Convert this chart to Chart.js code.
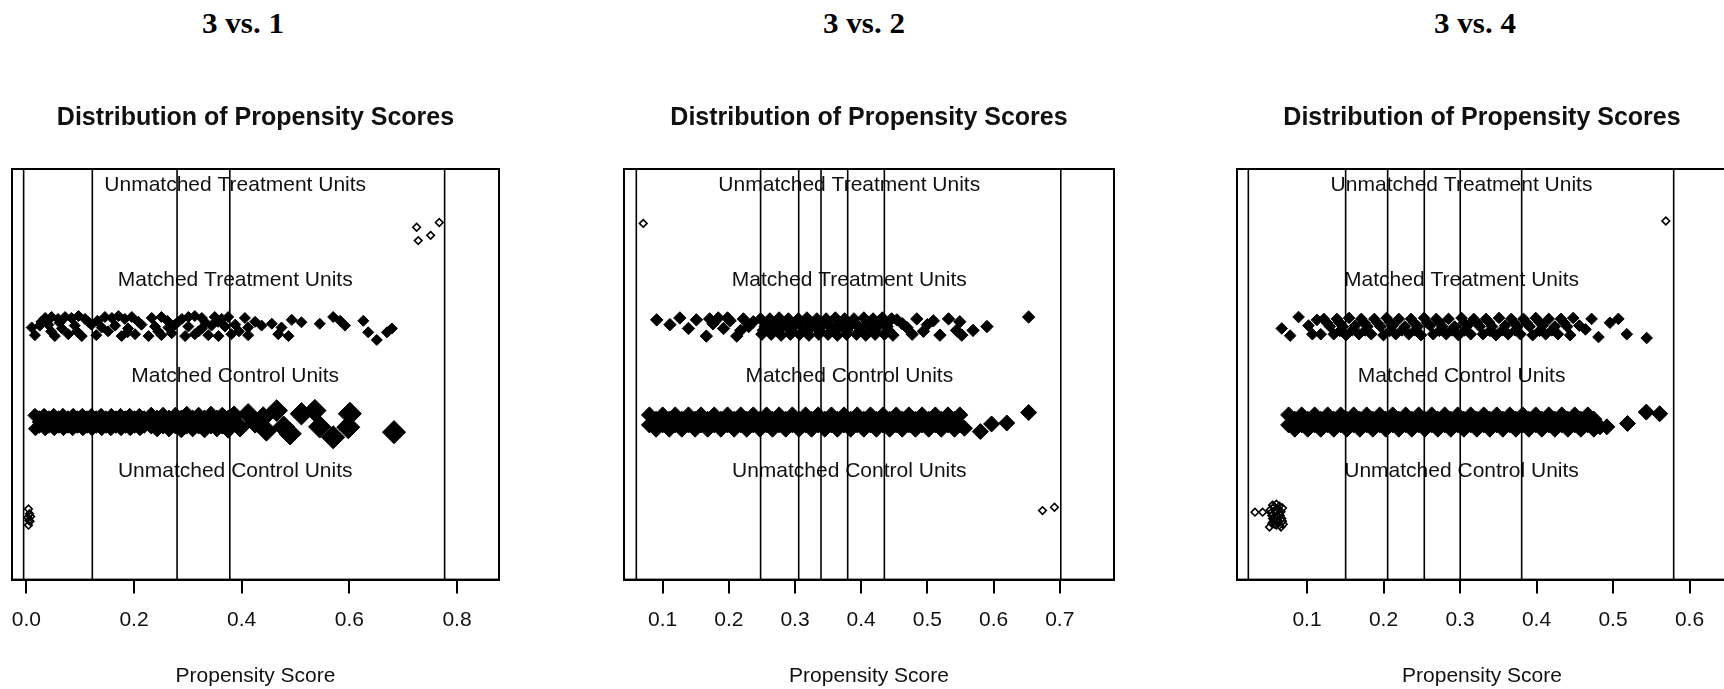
<!DOCTYPE html>
<html>
<head>
<meta charset="utf-8">
<script src="https://cdn.jsdelivr.net/npm/chart.js@4.4.1/dist/chart.umd.min.js"></script>
<style>
  html, body { margin: 0; padding: 0; background: #fff; width: 1724px; height: 689px; overflow: hidden; position: relative; }
  canvas { position: absolute; top: 0; }
  .hd { position: absolute; top: 5px; font-family: "Liberation Serif", "Times New Roman", serif; font-weight: bold; font-size: 29px; line-height: 36px; color: #000; white-space: nowrap; transform: translateX(-50%) scaleX(1.07); }
</style>
</head>
<body>
<script>
// ---------------- DATA ----------------
const panelHeadings = ["3 vs. 1", "3 vs. 2", "3 vs. 4"];
const chartTitle = "Distribution of Propensity Scores";
const axisTitle = "Propensity Score";
const groupLabels = ["Unmatched Treatment Units", "Matched Treatment Units", "Matched Control Units", "Unmatched Control Units"];
const groupLabelY = [4.48, 3.49, 2.48, 1.48];

// tick labels
const p1TickLabels = ["0.0", "0.2", "0.4", "0.6", "0.8"];
const p2TickLabels = ["0.1", "0.2", "0.3", "0.4", "0.5", "0.6", "0.7"];
const p3TickLabels = ["0.1", "0.2", "0.3", "0.4", "0.5", "0.6"];

// x ranges of the plot boxes
const p1Range = [-0.0266, 0.878];
const p2Range = [0.0416, 0.782];
const p3Range = [0.0085, 0.649];
const yRange = [0.35, 4.65];

// centre of group labels (propensity-score units)
const p1LabelX = 0.388;
const p2LabelX = 0.382;
const p3LabelX = 0.302;

// subclass cut lines
const p1Cuts = [-0.005, 0.1226, 0.280, 0.378, 0.777];
const p2Cuts = [0.0602, 0.248, 0.3056, 0.3393, 0.3796, 0.435, 0.7016];
const p3Cuts = [0.0233, 0.1505, 0.2054, 0.2533, 0.3003, 0.3806, 0.5793];

// ---- Panel 1 (3 vs. 1) ----  [score, jittered y]
const p1UT = [[0.725,4.04],[0.728,3.90],[0.751,3.955],[0.767,4.09]];
const p1UC = [[0.004,1.09],[0.006,1.04],[0.003,1.00],[0.007,0.96],[0.004,0.92],[0.008,1.01],[0.005,0.97]];
const p1MT = [
  [0.035,3.09],[0.047,3.10],[0.059,3.08],[0.072,3.10],[0.084,3.09],[0.097,3.11],[0.109,3.08],[0.146,3.10],[0.159,3.09],
  [0.171,3.11],[0.183,3.08],[0.196,3.10],[0.233,3.09],[0.251,3.10],[0.289,3.08],[0.301,3.10],[0.313,3.11],[0.326,3.09],
  [0.350,3.10],[0.363,3.08],[0.375,3.10],[0.406,3.09],[0.493,3.07],[0.511,3.045],[0.570,3.10],[0.583,3.06],[0.626,3.06],
  [0.010,2.99],[0.025,3.01],[0.041,3.02],[0.066,2.98],[0.090,3.01],[0.121,3.02],[0.140,2.99],[0.165,3.01],[0.189,2.98],
  [0.214,3.02],[0.239,3.00],[0.264,2.99],[0.276,3.02],[0.301,3.00],[0.326,2.98],[0.344,3.01],[0.369,3.00],[0.388,3.02],
  [0.412,2.99],[0.437,3.01],[0.456,3.03],[0.474,2.99],[0.545,3.03],[0.592,3.01],[0.679,2.98],
  [0.016,2.91],[0.053,2.90],[0.078,2.92],[0.103,2.90],[0.130,2.91],[0.177,2.90],[0.202,2.92],[0.227,2.90],[0.251,2.91],
  [0.270,2.93],[0.295,2.90],[0.313,2.92],[0.338,2.91],[0.357,2.90],[0.381,2.92],[0.412,2.91],[0.468,2.92],[0.487,2.90],
  [0.635,2.94],[0.651,2.86],[0.670,2.94],
  [0.028,3.05],[0.062,3.04],[0.115,3.05],[0.152,2.95],[0.208,3.05],[0.245,2.95],[0.282,3.05],[0.320,2.95],[0.356,3.05],
  [0.395,2.95],[0.046,2.95],[0.094,2.95],[0.132,3.06],[0.188,2.94],[0.262,3.06],[0.333,3.04],[0.425,3.05]
];
// [score, jittered y, weight]
const p1MC = [
  [0.016,2.07,1],[0.033,2.07,1],[0.051,2.07,1],[0.068,2.07,1],[0.087,2.07,1],[0.104,2.07,1],[0.121,2.07,1],[0.139,2.07,1],
  [0.158,2.07,1],[0.175,2.07,1],[0.192,2.07,1],[0.210,2.07,1],
  [0.024,2.045,1],[0.042,2.045,1],[0.060,2.045,1],[0.077,2.045,1],[0.095,2.045,1],[0.113,2.045,1],[0.130,2.045,1],[0.148,2.045,1],
  [0.166,2.045,1],[0.184,2.045,1],[0.201,2.045,1],[0.219,2.045,1],
  [0.024,2.00,1],[0.042,2.00,1],[0.060,2.00,1],[0.077,2.00,1],[0.095,2.00,1],[0.113,2.00,1],[0.130,2.00,1],[0.148,2.00,1],
  [0.166,2.00,1],[0.184,2.00,1],[0.201,2.00,1],[0.219,2.00,1],
  [0.024,1.955,1],[0.042,1.955,1],[0.060,1.955,1],[0.077,1.955,1],[0.095,1.955,1],[0.113,1.955,1],[0.130,1.955,1],[0.148,1.955,1],
  [0.166,1.955,1],[0.184,1.955,1],[0.201,1.955,1],[0.219,1.955,1],
  [0.017,1.93,1],[0.035,1.93,1],[0.052,1.93,1],[0.069,1.93,1],[0.086,1.93,1],[0.105,1.93,1],[0.122,1.93,1],[0.140,1.93,1],
  [0.157,1.93,1],[0.176,1.93,1],[0.193,1.93,1],[0.211,1.93,1],
  [0.232,2.06,1.3],[0.254,2.06,1.3],[0.277,2.06,1.3],[0.298,2.07,1.3],[0.320,2.06,1.3],[0.343,2.07,1.3],[0.364,2.06,1.3],[0.386,2.07,1.35],
  [0.243,2.03,1.3],[0.265,2.03,1.3],[0.288,2.03,1.3],[0.309,2.03,1.3],[0.331,2.03,1.3],[0.354,2.03,1.3],[0.375,2.03,1.3],
  [0.232,1.97,1.3],[0.254,1.97,1.3],[0.277,1.97,1.3],[0.298,1.97,1.3],[0.320,1.97,1.3],[0.343,1.97,1.3],[0.364,1.97,1.3],
  [0.243,1.94,1.3],[0.265,1.94,1.3],[0.288,1.93,1.3],[0.309,1.94,1.3],[0.331,1.93,1.3],[0.354,1.94,1.3],[0.375,1.93,1.35],
  [0.397,1.946,1.4],[0.412,2.087,1.45],[0.425,1.99,1.45],[0.440,2.05,1.5],[0.446,1.91,1.5],[0.465,2.12,1.55],[0.478,1.95,1.55],
  [0.490,1.877,1.6],[0.511,2.087,1.6],[0.536,2.12,1.6],[0.545,1.95,1.6],[0.570,1.84,1.65],[0.598,1.946,1.65],[0.601,2.087,1.65],
  [0.683,1.894,1.65]
];

// ---- Panel 2 (3 vs. 2) ----
const p2UT = [[0.0707,4.08]];
const p2UC = [[0.674,1.073],[0.692,1.108]];
const p2MT = [
  [0.091,3.07],[0.111,3.02],[0.126,3.09],[0.139,2.98],[0.151,3.07],[0.166,2.90],[0.176,3.03],[0.184,3.09],[0.192,2.98],
  [0.202,3.06],[0.212,2.90],[0.222,3.08],[0.230,3.00],[0.237,3.05],[0.198,3.09],[0.171,3.08],[0.218,2.96],
  [0.248,3.08],[0.262,3.08],[0.276,3.09],[0.290,3.08],[0.305,3.08],[0.318,3.09],[0.333,3.08],[0.347,3.08],[0.361,3.09],
  [0.375,3.08],[0.389,3.08],[0.404,3.09],[0.418,3.08],[0.432,3.09],[0.446,3.08],
  [0.262,3.04],[0.283,3.04],[0.304,3.045],[0.325,3.04],[0.347,3.04],[0.368,3.045],[0.389,3.04],[0.410,3.04],[0.431,3.045],
  [0.255,3.00],[0.269,3.00],[0.283,3.01],[0.297,3.00],[0.311,3.00],[0.326,3.01],[0.340,3.00],[0.354,3.00],[0.368,3.01],
  [0.382,3.00],[0.396,3.00],[0.411,3.01],[0.425,3.00],[0.439,3.00],
  [0.252,2.96],[0.273,2.96],[0.294,2.955],[0.315,2.96],[0.336,2.96],[0.357,2.955],[0.378,2.96],[0.399,2.96],[0.420,2.955],[0.441,2.96],
  [0.250,2.92],[0.264,2.92],[0.279,2.91],[0.293,2.92],[0.307,2.92],[0.321,2.91],[0.336,2.92],[0.350,2.92],[0.364,2.91],
  [0.378,2.92],[0.393,2.92],[0.407,2.91],[0.421,2.92],[0.435,2.92],[0.448,2.91],
  [0.454,3.07],[0.469,2.99],[0.477,2.92],[0.484,3.08],[0.494,2.95],[0.509,3.06],[0.519,2.91],[0.532,3.08],[0.544,2.96],
  [0.549,3.05],[0.552,2.91],[0.569,2.96],[0.590,3.00],[0.653,3.10],[0.462,3.03],[0.500,3.02]
];
const p2MC = [
  [0.080,2.075,1],[0.100,2.075,1],[0.119,2.075,1],[0.139,2.075,1],[0.158,2.075,1],[0.178,2.075,1],[0.198,2.075,1],[0.218,2.075,1],
  [0.237,2.075,1],[0.257,2.075,1],[0.276,2.075,1],[0.296,2.075,1],[0.316,2.075,1],[0.335,2.075,1],[0.355,2.075,1],[0.374,2.075,1],
  [0.394,2.075,1],[0.414,2.075,1],[0.433,2.075,1],[0.453,2.075,1],[0.472,2.075,1],[0.492,2.075,1],[0.512,2.075,1],[0.531,2.075,1],[0.549,2.075,1],
  [0.090,2.03,1],[0.110,2.03,1],[0.129,2.03,1],[0.149,2.03,1],[0.168,2.03,1],[0.188,2.03,1],[0.208,2.03,1],[0.227,2.03,1],
  [0.247,2.03,1],[0.266,2.03,1],[0.286,2.03,1],[0.306,2.03,1],[0.325,2.03,1],[0.345,2.03,1],[0.364,2.03,1],[0.384,2.03,1],
  [0.404,2.03,1],[0.423,2.03,1],[0.443,2.03,1],[0.462,2.03,1],[0.482,2.03,1],[0.502,2.03,1],[0.521,2.03,1],[0.541,2.03,1],
  [0.080,1.97,1],[0.100,1.97,1],[0.119,1.97,1],[0.139,1.97,1],[0.158,1.97,1],[0.178,1.97,1],[0.198,1.97,1],[0.218,1.97,1],
  [0.237,1.97,1],[0.257,1.97,1],[0.276,1.97,1],[0.296,1.97,1],[0.316,1.97,1],[0.335,1.97,1],[0.355,1.97,1],[0.374,1.97,1],
  [0.394,1.97,1],[0.414,1.97,1],[0.433,1.97,1],[0.453,1.97,1],[0.472,1.97,1],[0.492,1.97,1],[0.512,1.97,1],[0.531,1.97,1],[0.549,1.97,1],
  [0.090,1.925,1],[0.110,1.925,1],[0.129,1.925,1],[0.149,1.925,1],[0.168,1.925,1],[0.188,1.925,1],[0.208,1.925,1],[0.227,1.925,1],
  [0.247,1.925,1],[0.266,1.925,1],[0.286,1.925,1],[0.306,1.925,1],[0.325,1.925,1],[0.345,1.925,1],[0.364,1.925,1],[0.384,1.925,1],
  [0.404,1.925,1],[0.423,1.925,1],[0.443,1.925,1],[0.462,1.925,1],[0.482,1.925,1],[0.502,1.925,1],[0.521,1.925,1],[0.541,1.925,1],[0.556,1.935,1],
  [0.580,1.90,1],[0.597,1.98,1],[0.620,1.99,1],[0.653,2.10,1]
];

// ---- Panel 3 (3 vs. 4) ----
const p3UT = [[0.569,4.105]];
const p3UC = [
  [0.032,1.056],[0.042,1.056],[0.055,1.13],[0.060,1.14],[0.064,1.12],[0.052,1.08],[0.058,1.07],[0.066,1.06],[0.054,1.02],
  [0.061,1.01],[0.067,0.99],[0.056,0.96],[0.063,0.95],[0.069,0.93],[0.051,0.90],[0.060,0.92],[0.066,0.90],
  [0.057,1.11],[0.062,1.09],[0.068,1.10],[0.053,1.05],[0.064,1.04],[0.058,1.00],[0.065,1.02],[0.055,0.99],[0.062,0.97],
  [0.068,0.96],[0.058,0.93],[0.064,0.92],[0.054,0.94]
];
const p3MT = [
  [0.067,2.98],[0.078,2.905],[0.089,3.10],[0.102,3.01],[0.107,2.92],[0.113,3.07],
  [0.122,3.08],[0.139,3.08],[0.155,3.09],[0.171,3.08],[0.188,3.08],[0.204,3.09],[0.220,3.08],[0.236,3.08],[0.253,3.09],
  [0.269,3.08],[0.285,3.08],[0.302,3.09],[0.318,3.08],[0.334,3.08],[0.351,3.09],[0.367,3.08],[0.383,3.08],[0.399,3.09],
  [0.416,3.08],[0.432,3.08],[0.448,3.09],
  [0.130,3.00],[0.147,3.00],[0.163,3.01],[0.179,3.00],[0.196,3.00],[0.212,3.01],[0.228,3.00],[0.245,3.00],[0.261,3.01],
  [0.277,3.00],[0.293,3.00],[0.310,3.01],[0.326,3.00],[0.342,3.00],[0.359,3.01],[0.375,3.00],[0.391,3.00],[0.408,3.01],
  [0.424,3.00],[0.440,3.00],[0.456,3.01],
  [0.118,2.92],[0.135,2.92],[0.151,2.91],[0.168,2.92],[0.184,2.92],[0.200,2.91],[0.216,2.92],[0.233,2.92],[0.249,2.91],
  [0.265,2.92],[0.282,2.92],[0.298,2.91],[0.314,2.92],[0.330,2.92],[0.347,2.91],[0.363,2.92],[0.379,2.92],[0.395,2.91],
  [0.412,2.92],[0.428,2.92],[0.444,2.91],
  [0.126,3.04],[0.159,2.96],[0.192,3.04],[0.224,2.96],[0.257,3.04],[0.289,2.96],[0.322,3.04],[0.355,2.96],[0.387,3.04],
  [0.420,2.96],[0.436,3.04],
  [0.142,3.045],[0.175,3.04],[0.208,3.045],[0.240,3.04],[0.273,3.045],[0.305,3.04],[0.338,3.045],[0.371,3.04],[0.404,3.045],
  [0.143,2.955],[0.176,2.96],[0.208,2.955],[0.241,2.96],[0.273,2.955],[0.306,2.96],[0.339,2.955],[0.372,2.96],[0.404,2.955],
  [0.464,2.97],[0.472,3.08],[0.481,2.89],[0.496,3.04],[0.507,3.08],[0.518,2.92],[0.544,2.88]
];
const p3MC = [
  [0.076,2.075,1],[0.093,2.075,1],[0.110,2.075,1],[0.127,2.075,1],[0.144,2.075,1],[0.161,2.075,1],[0.178,2.075,1],[0.195,2.075,1],
  [0.212,2.075,1],[0.229,2.075,1],[0.246,2.075,1],[0.263,2.075,1],[0.280,2.075,1],[0.297,2.075,1],[0.314,2.075,1],[0.331,2.075,1],
  [0.348,2.075,1],[0.365,2.075,1],[0.382,2.075,1],[0.399,2.075,1],[0.416,2.075,1],[0.433,2.075,1],[0.450,2.075,1],[0.467,2.075,1],
  [0.084,2.03,1],[0.101,2.03,1],[0.118,2.03,1],[0.135,2.03,1],[0.152,2.03,1],[0.169,2.03,1],[0.186,2.03,1],[0.203,2.03,1],
  [0.220,2.03,1],[0.237,2.03,1],[0.254,2.03,1],[0.271,2.03,1],[0.288,2.03,1],[0.305,2.03,1],[0.322,2.03,1],[0.339,2.03,1],
  [0.356,2.03,1],[0.373,2.03,1],[0.390,2.03,1],[0.407,2.03,1],[0.424,2.03,1],[0.441,2.03,1],[0.458,2.03,1],[0.475,2.03,1],
  [0.076,1.97,1],[0.093,1.97,1],[0.110,1.97,1],[0.127,1.97,1],[0.144,1.97,1],[0.161,1.97,1],[0.178,1.97,1],[0.195,1.97,1],
  [0.212,1.97,1],[0.229,1.97,1],[0.246,1.97,1],[0.263,1.97,1],[0.280,1.97,1],[0.297,1.97,1],[0.314,1.97,1],[0.331,1.97,1],
  [0.348,1.97,1],[0.365,1.97,1],[0.382,1.97,1],[0.399,1.97,1],[0.416,1.97,1],[0.433,1.97,1],[0.450,1.97,1],[0.467,1.97,1],
  [0.084,1.925,1],[0.101,1.925,1],[0.118,1.925,1],[0.135,1.925,1],[0.152,1.925,1],[0.169,1.925,1],[0.186,1.925,1],[0.203,1.925,1],
  [0.220,1.925,1],[0.237,1.925,1],[0.254,1.925,1],[0.271,1.925,1],[0.288,1.925,1],[0.305,1.925,1],[0.322,1.925,1],[0.339,1.925,1],
  [0.356,1.925,1],[0.373,1.925,1],[0.390,1.925,1],[0.407,1.925,1],[0.424,1.925,1],[0.441,1.925,1],[0.458,1.925,1],[0.475,1.925,1],
  [0.483,1.95,1],[0.492,1.95,1],[0.519,1.985,1],[0.5435,2.104,1],[0.561,2.087,1]
];

// ---------------- LAYOUT / STYLE ----------------
const PAD = 40;
const panels = [
  { heading: panelHeadings[0], headingX: 243, boxLeft: 12,     boxWidth: 487, range: p1Range, ticks: p1TickLabels, cuts: p1Cuts, labelX: p1LabelX, UT: p1UT, MT: p1MT, MC: p1MC, UC: p1UC, mtR: 5.5, mcR: 7 },
  { heading: panelHeadings[1], headingX: 864, boxLeft: 624,    boxWidth: 490, range: p2Range, ticks: p2TickLabels, cuts: p2Cuts, labelX: p2LabelX, UT: p2UT, MT: p2MT, MC: p2MC, UC: p2UC, mtR: 6.2, mcR: 8 },
  { heading: panelHeadings[2], headingX: 1475, boxLeft: 1236.7, boxWidth: 490, range: p3Range, ticks: p3TickLabels, cuts: p3Cuts, labelX: p3LabelX, UT: p3UT, MT: p3MT, MC: p3MC, UC: p3UC, mtR: 5.8, mcR: 8 }
];

const SANS = '"Liberation Sans", Arial, Helvetica, sans-serif';
const INK = '#000';
const TXT = '#111';

const boxPlugin = {
  id: 'plotBox',
  afterDraw(chart) {
    const { ctx, chartArea: a } = chart;
    ctx.save();
    ctx.strokeStyle = INK;
    ctx.lineWidth = 2;
    ctx.strokeRect(a.left, a.top, a.right - a.left, a.bottom - a.top);
    ctx.restore();
  }
};

const groupLabelPlugin = {
  id: 'groupLabels',
  beforeDatasetsDraw(chart, args, opts) {
    const { ctx, scales: { x, y } } = chart;
    ctx.save();
    ctx.font = '21px ' + SANS;
    ctx.fillStyle = TXT;
    ctx.textAlign = 'center';
    ctx.textBaseline = 'middle';
    groupLabels.forEach((t, i) => {
      ctx.fillText(t, x.getPixelForValue(opts.labelX), y.getPixelForValue(groupLabelY[i]));
    });
    ctx.restore();
  }
};

const toPts = arr => arr.map(p => ({ x: p[0], y: p[1], w: p[2] === undefined ? 1 : p[2] }));

panels.forEach(p => {
  const hd = document.createElement('div');
  hd.className = 'hd';
  hd.style.left = p.headingX + 'px';
  hd.textContent = p.heading;
  document.body.appendChild(hd);

  const cv = document.createElement('canvas');
  const W = Math.round(p.boxWidth + 2 * PAD);
  cv.width = W;
  cv.height = 689;
  cv.style.left = (p.boxLeft - PAD) + 'px';
  cv.style.width = W + 'px';
  cv.style.height = '689px';
  document.body.appendChild(cv);

  const datasets = [];
  p.cuts.forEach(c => {
    datasets.push({
      type: 'line', data: [{ x: c, y: yRange[0] }, { x: c, y: yRange[1] }],
      borderColor: INK, borderWidth: 1.6, pointRadius: 0, showLine: true, fill: false, order: 1
    });
  });
  datasets.push({
    data: toPts(p.MC), pointStyle: 'rectRot', backgroundColor: INK, borderColor: INK, borderWidth: 1,
    pointRadius: ctx => p.mcR * (ctx.raw ? ctx.raw.w : 1), order: 3
  });
  datasets.push({
    data: toPts(p.MT), pointStyle: 'rectRot', backgroundColor: INK, borderColor: INK, borderWidth: 1,
    pointRadius: p.mtR, order: 3
  });
  datasets.push({
    data: toPts(p.UT), pointStyle: 'rectRot', backgroundColor: 'rgba(0,0,0,0)', borderColor: INK, borderWidth: 1.6,
    pointRadius: 3.8, order: 2
  });
  datasets.push({
    data: toPts(p.UC), pointStyle: 'rectRot', backgroundColor: 'rgba(0,0,0,0)', borderColor: INK, borderWidth: 1.6,
    pointRadius: 3.8, order: 2
  });

  new Chart(cv, {
    type: 'scatter',
    data: { datasets },
    options: {
      responsive: false,
      animation: false,
      events: [],
      layout: { padding: { left: PAD, right: PAD, top: 0, bottom: 0 } },
      plugins: {
        legend: { display: false },
        tooltip: { enabled: false },
        title: {
          display: true, text: chartTitle, color: TXT,
          font: { family: SANS, size: 25, weight: 'bold', lineHeight: 1.2 },
          padding: { top: 103, bottom: 36 }
        },
        groupLabels: { labelX: p.labelX }
      },
      scales: {
        x: {
          type: 'linear', min: p.range[0], max: p.range[1],
          afterBuildTicks: ax => { ax.ticks = p.ticks.map(s => ({ value: parseFloat(s) })); },
          ticks: {
            callback: (v, i) => p.ticks[i], color: TXT, padding: 14, maxRotation: 0, autoSkip: false,
            font: { family: SANS, size: 21, lineHeight: 1.2 }
          },
          grid: { drawOnChartArea: false, drawTicks: true, tickLength: 14, color: INK, lineWidth: 2 },
          border: { display: true, color: INK, width: 2 },
          title: {
            display: true, text: axisTitle, color: TXT,
            font: { family: SANS, size: 21, lineHeight: 1.2 },
            padding: { top: 16.5, bottom: 0.5 }
          }
        },
        y: { type: 'linear', min: yRange[0], max: yRange[1], display: false }
      }
    },
    plugins: [groupLabelPlugin, boxPlugin]
  });
});
</script>
</body>
</html>
